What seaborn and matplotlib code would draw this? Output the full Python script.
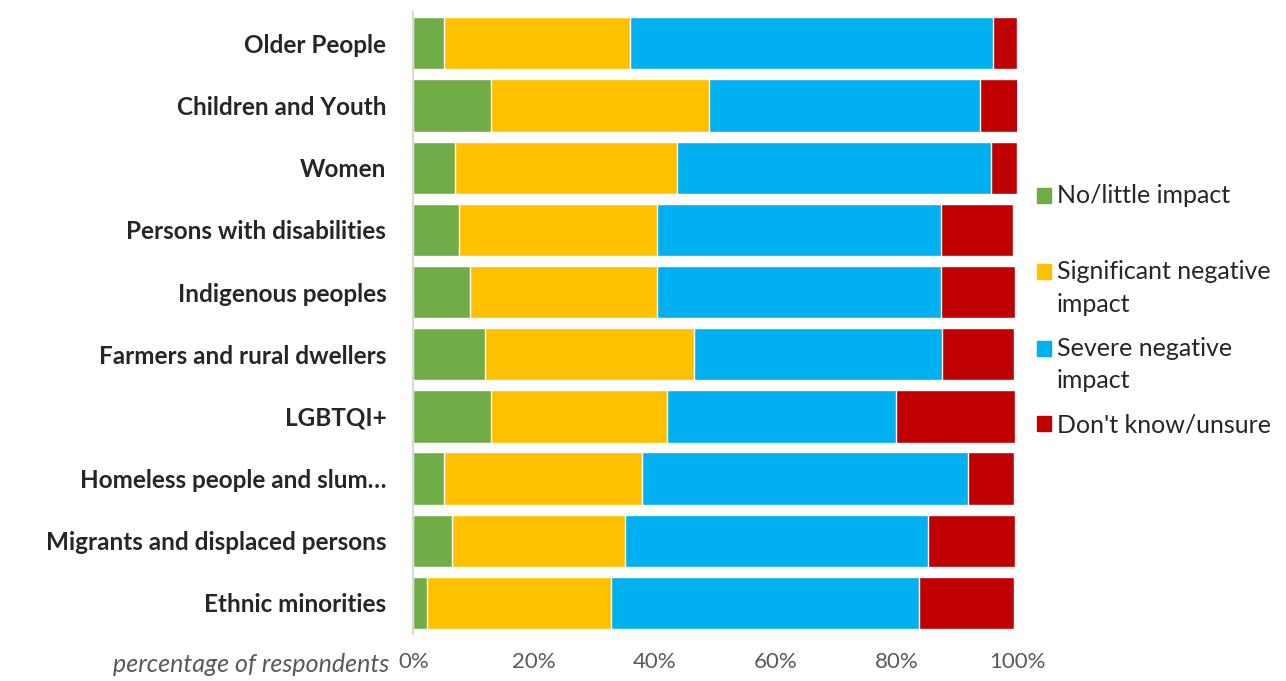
import matplotlib
matplotlib.use("Agg")
import matplotlib.pyplot as plt
import matplotlib.patches as mpatches
import numpy as np
import pandas as pd
import seaborn as sns

groups = ["Older People", "Children and Youth", "Women", "Persons with disabilities",
          "Indigenous peoples", "Farmers and rural dwellers", "LGBTQI+",
          "Homeless people and slum…", "Migrants and displaced persons", "Ethnic minorities"]
no_little = [5.1, 12.8, 6.9, 7.6, 9.4, 11.9, 12.8, 5.1, 6.4, 2.3]
significant = [30.8, 36.2, 36.8, 32.8, 31.0, 34.5, 29.2, 32.8, 28.7, 30.4]
severe = [60.1, 44.8, 52.0, 47.0, 47.0, 41.1, 38.0, 53.9, 50.2, 51.1]
dont_know = [4.0, 6.3, 4.3, 11.9, 12.3, 12.0, 19.7, 7.7, 14.3, 15.7]

series_names = ["No/little impact", "Significant negative\nimpact", "Severe negative\nimpact", "Don't know/unsure"]
colors = ["#70AD47", "#FFC000", "#00B0F0", "#C00000"]

sns.set_style("white")
plt.rcParams["font.family"] = ["Lato", "DejaVu Sans"]

df = pd.DataFrame({"group": groups, "s0": no_little, "s1": significant, "s2": severe, "s3": dont_know})
cols = ["s0", "s1", "s2", "s3"]
cum = df[cols].cumsum(axis=1)
cum["group"] = df["group"]

fig = plt.figure(figsize=(12.86, 6.81), dpi=100)
ax = fig.add_axes([0.3215, 0.069, 0.4695, 0.913])

# draw from the full stack down so each shorter bar covers the previous one
for i in range(3, -1, -1):
    sns.barplot(data=cum, x=cols[i], y="group", color=colors[i], width=0.84,
                saturation=1, ax=ax, orient="h")

ax.set_xlim(0, 100)
ax.set_xticks(np.arange(0, 101, 20))
ax.set_xticklabels([f"{v}%" for v in range(0, 101, 20)], color="#595959", fontsize=16)
ax.set_xlabel("")
ax.set_ylabel("")
ax.tick_params(axis="x", length=0, pad=13)
ax.tick_params(axis="y", length=0, pad=19.5, labelsize=17.5)
for lab in ax.get_yticklabels():
    lab.set_fontweight("bold")
for side in ["top", "right", "bottom"]:
    ax.spines[side].set_visible(False)
ax.spines["left"].set_color("#d9d9d9")
ax.spines["left"].set_linewidth(1.5)

fig.text(0.303, 0.0235, "percentage of respondents", ha="right", va="center",
         fontsize=18, style="italic", color="#595959")

fs = 18
ls = 1.5
handles = [mpatches.Patch(color=c) for c in colors]
labels = [series_names[0] + "\n"] + series_names[1:]
leg = fig.legend(handles, labels, loc="upper left", bbox_to_anchor=(0.8064, 0.7305),
                 frameon=False, fontsize=fs, handlelength=0.55, handleheight=0.55,
                 handletextpad=0.25, labelspacing=0.84, borderpad=0, borderaxespad=0)
for t in leg.get_texts():
    t.set_linespacing(ls)
# put the square next to the first line of two-line entries
for h in leg.legend_handles[:3]:
    h.set_y(h.get_y() + 0.5 * ls * fs * 0.88)

fig.savefig("out.png", dpi=100)
